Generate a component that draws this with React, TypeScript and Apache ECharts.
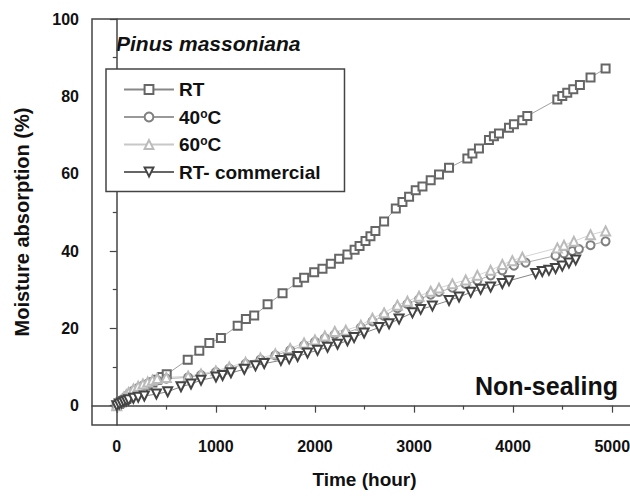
import React, { useEffect, useRef } from 'react';
import * as echarts from 'echarts';

const FONT = 'Liberation Sans, Arial, sans-serif';

const seriesNames = ['RT', '40°C', '60°C', 'RT- commercial'];
const xTicks = [0, 1000, 2000, 3000, 4000, 5000];
const xMinorTicks = [500, 1500, 2500, 3500, 4500];
const yTicks = [0, 20, 40, 60, 80, 100];
const yMinorTicks = [10, 30, 50, 70, 90];

const rtTime = [0, 24, 48, 72, 96, 120, 168, 216, 264, 312, 360, 408, 456, 504, 716, 833, 934, 1051, 1220, 1303, 1387, 1522, 1673, 1825, 1891, 1992, 2076, 2160, 2244, 2328, 2400, 2450, 2510, 2560, 2610, 2698, 2816, 2883, 2950, 3017, 3085, 3168, 3252, 3353, 3538, 3589, 3655, 3756, 3806, 3857, 3958, 4008, 4093, 4143, 4446, 4496, 4546, 4607, 4674, 4781, 4933];
const rtValue = [0, 0.5, 0.9, 1.3, 1.7, 2.1, 2.9, 3.7, 4.5, 5.3, 6.0, 6.7, 7.4, 8.1, 11.9, 14.2, 16.2, 17.5, 20.7, 22.4, 23.3, 26.2, 29.1, 31.9, 33.1, 34.5, 35.4, 36.7, 38.0, 39.1, 40.3, 41.3, 42.6, 43.8, 45.2, 47.6, 51.0, 52.7, 54.0, 55.7, 56.7, 58.3, 59.8, 61.5, 63.9, 65.2, 66.5, 68.7, 69.7, 70.4, 71.9, 72.8, 73.8, 74.9, 79.2, 80.1, 80.9, 81.8, 82.9, 84.9, 87.2];

const t40Time = [0, 24, 48, 72, 96, 120, 168, 216, 264, 312, 360, 408, 500, 720, 850, 1000, 1135, 1300, 1450, 1600, 1750, 1890, 2000, 2100, 2200, 2311, 2463, 2580, 2698, 2832, 2933, 3050, 3168, 3252, 3387, 3521, 3639, 3773, 3891, 4008, 4126, 4428, 4512, 4597, 4664, 4781, 4933];
const t40Value = [0, 0.7, 1.3, 1.9, 2.5, 3.0, 3.9, 4.6, 5.2, 5.7, 6.2, 6.6, 7.0, 7.3, 7.9, 8.7, 9.6, 10.8, 11.9, 13.0, 14.3, 15.6, 16.5, 17.4, 18.4, 18.8, 20.2, 21.8, 23.2, 25.2, 26.3, 27.5, 28.7, 29.4, 30.5, 31.4, 32.4, 33.7, 35.0, 36.2, 37.0, 38.8, 39.4, 40.0, 40.5, 41.5, 42.5];

const t60Time = [0, 24, 48, 72, 96, 120, 168, 216, 264, 312, 360, 408, 500, 720, 850, 1000, 1135, 1300, 1450, 1600, 1750, 1890, 2000, 2100, 2200, 2311, 2463, 2580, 2698, 2832, 2933, 3050, 3168, 3252, 3387, 3521, 3639, 3773, 3891, 3992, 4093, 4446, 4513, 4613, 4781, 4933];
const t60Value = [0, 0.8, 1.5, 2.2, 2.8, 3.4, 4.3, 5.0, 5.6, 6.1, 6.6, 7.0, 7.3, 7.6, 8.2, 9.0, 10.0, 11.2, 12.3, 13.4, 14.8, 16.2, 17.0, 18.0, 19.2, 19.5, 20.8, 22.6, 24.0, 26.0, 27.0, 28.3, 29.6, 30.4, 31.5, 32.5, 33.7, 35.0, 36.5, 37.5, 38.4, 40.8, 41.5, 42.5, 44.2, 45.2];

const rtcTime = [0, 24, 48, 72, 96, 120, 168, 216, 278, 400, 514, 648, 749, 850, 1001, 1068, 1152, 1287, 1400, 1488, 1656, 1740, 1825, 1925, 2026, 2127, 2228, 2328, 2395, 2496, 2647, 2748, 2849, 2984, 3067, 3185, 3353, 3454, 3572, 3672, 3773, 3891, 3958, 4227, 4294, 4361, 4428, 4496, 4563, 4631];
const rtcValue = [0, 0.4, 0.7, 1.0, 1.3, 1.5, 1.9, 2.2, 2.5, 3.0, 3.6, 4.9, 5.6, 6.6, 7.4, 7.8, 8.5, 9.4, 10.3, 10.9, 11.7, 12.1, 12.7, 13.6, 14.3, 15.1, 15.9, 16.8, 17.6, 18.8, 20.2, 21.2, 22.4, 24.0, 24.9, 25.8, 27.2, 28.1, 29.3, 30.1, 30.7, 31.6, 32.3, 34.2, 34.7, 35.0, 35.5, 36.1, 36.9, 37.7];

const pairs = (xs: number[], ys: number[]) => xs.map((x, i) => [x, ys[i]]);

export default function App() {
  const ref = useRef<HTMLDivElement>(null);
  useEffect(() => {
    document.body.style.margin = '0';
    if (!ref.current) return;
    const chart = echarts.init(ref.current, null, { renderer: 'svg' });
    const axisColor = '#444';
    const gridPos = { left: 92, top: 19, right: -7, bottom: 75 };
    const xRange = { min: -250, max: 5250 };
    const yRange = { min: -5, max: 100 };
    const mkSeries = (name: string, data: number[][], symbol: string, size: number, color: string, lineColor: string, rotate = 0) => ({
      name,
      type: 'line',
      data,
      symbol,
      symbolSize: size,
      symbolRotate: rotate,
      showSymbol: true,
      itemStyle: { color, borderColor: color, borderWidth: 1 },
      lineStyle: { color: lineColor, width: 0.8 },
      emphasis: { disabled: true },
      z: 3,
    });
    chart.setOption({
      animation: false,
      backgroundColor: '#fff',
      grid: [
        { ...gridPos, containLabel: false, outerBoundsMode: 'none', show: true, borderColor: axisColor, borderWidth: 1.5, backgroundColor: 'transparent' },
        { ...gridPos, containLabel: false, outerBoundsMode: 'none', show: false },
      ],
      xAxis: [
        {
          type: 'value', gridIndex: 0, ...xRange,
          splitLine: { show: false },
          axisLine: { show: true, lineStyle: { color: axisColor, width: 1.5 } },
          axisTick: { show: true, customValues: xTicks, length: 7, inside: false, lineStyle: { color: axisColor, width: 1.2 } },
          axisLabel: { customValues: xTicks, formatter: (v: number) => String(v), margin: 13, fontSize: 16, fontWeight: 'bold', fontFamily: FONT, color: '#111' },
          name: 'Time (hour)', nameLocation: 'middle', nameGap: 45,
          nameTextStyle: { fontSize: 19, fontWeight: 'bold', fontFamily: FONT, color: '#111' },
        },
        {
          type: 'value', gridIndex: 1, ...xRange,
          splitLine: { show: false },
          axisLine: { show: false },
          axisTick: { show: true, customValues: xMinorTicks, length: 4, lineStyle: { color: axisColor, width: 1.2 } },
          axisLabel: { show: false },
        },
      ],
      yAxis: [
        {
          type: 'value', gridIndex: 0, ...yRange,
          splitLine: { show: false },
          axisLine: { show: true, lineStyle: { color: axisColor, width: 1.5 } },
          axisTick: { show: true, customValues: yTicks, length: 7, inside: false, lineStyle: { color: axisColor, width: 1.2 } },
          axisLabel: { customValues: yTicks, formatter: (v: number) => String(v), margin: 13, fontSize: 16, fontWeight: 'bold', fontFamily: FONT, color: '#111' },
          name: 'Moisture absorption (%)', nameLocation: 'middle', nameGap: 60, nameRotate: 90,
          nameTextStyle: { fontSize: 20, fontWeight: 'bold', fontFamily: FONT, color: '#111' },
        },
        {
          type: 'value', gridIndex: 1, ...yRange,
          splitLine: { show: false },
          axisLine: { show: false },
          axisTick: { show: true, customValues: yMinorTicks, length: 4, lineStyle: { color: axisColor, width: 1.2 } },
          axisLabel: { show: false },
        },
      ],
      legend: {
        show: true,
        orient: 'vertical',
        left: 106,
        top: 69,
        padding: [11, 24, 10, 17],
        itemWidth: 50,
        itemHeight: 11,
        itemGap: 8.5,
        borderColor: axisColor,
        borderWidth: 1.5,
        borderRadius: 0,
        backgroundColor: '#fff',
        data: seriesNames,
        formatter: (n: string) => n.replace('°', '{sup|o}'),
        textStyle: {
          fontSize: 19, fontWeight: 'bold', fontFamily: FONT, color: '#111',
          rich: { sup: { fontSize: 12, fontWeight: 'bold', fontFamily: FONT, color: '#111', verticalAlign: 'top' } },
        },
      },
      graphic: [
        {
          type: 'text', left: 116, top: 33,
          style: { text: 'Pinus massoniana', fontSize: 21, fontWeight: 'bold', fontStyle: 'italic', fontFamily: FONT, fill: '#111' },
        },
        {
          type: 'text', x: 618, y: 386,
          style: { text: 'Non-sealing', fontSize: 25, fontWeight: 'bold', fontFamily: FONT, fill: '#111', align: 'right', verticalAlign: 'middle' },
        },
      ],
      series: [
        mkSeries(seriesNames[0], pairs(rtTime, rtValue), 'emptyRect', 8, '#666', '#888'),
        mkSeries(seriesNames[1], pairs(t40Time, t40Value), 'emptyCircle', 8, '#808080', '#999'),
        mkSeries(seriesNames[2], pairs(t60Time, t60Value), 'emptyTriangle', 9, '#bbb', '#c8c8c8'),
        mkSeries(seriesNames[3], pairs(rtcTime, rtcValue), 'emptyTriangle', 9, '#444', '#666', 180),
      ],
    });
    return () => chart.dispose();
  }, []);
  return <div ref={ref} style={{ width: 630, height: 500 }} />;
}
